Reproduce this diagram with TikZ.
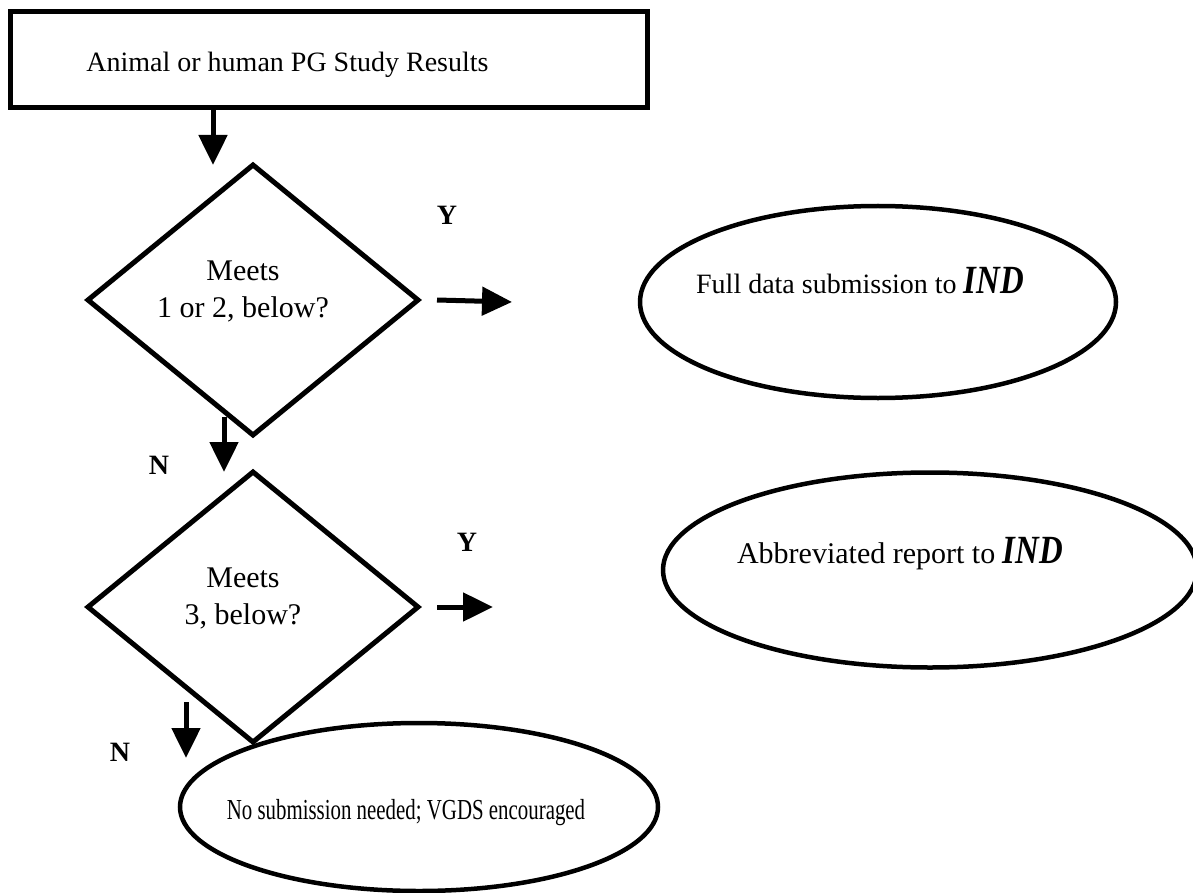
\documentclass[tikz,border=0pt]{standalone}
\usepackage{fontspec}
\setmainfont{Liberation Serif}
\usetikzlibrary{shapes.geometric,arrows.meta,calc}
\newcommand{\indword}{\scalebox{0.82}[1]{\fontsize{40}{40}\selectfont\bfseries\itshape IND}}
\begin{document}
\begin{tikzpicture}[x=1pt,y=-1pt,
  box/.style={draw,line width=5pt,minimum width=637pt,minimum height=96pt,inner sep=0pt,outer sep=0pt,
    font=\fontsize{28}{34}\selectfont,text height=24pt,text depth=0pt},
  decision/.style={draw,diamond,line width=5pt,minimum width=330pt,minimum height=270pt,inner sep=0pt,outer sep=0pt,
    font=\fontsize{30}{37}\selectfont,text height=20pt,text depth=60pt},
  outcome/.style={draw,ellipse,line width=4.5pt,inner sep=0pt,outer sep=0pt},
  arr/.style={line width=5pt,-{Triangle[length=30pt,width=28pt]}},
  yn/.style={font=\fontsize{28}{34}\selectfont\bfseries,inner sep=0pt},
]
\useasboundingbox (0,0) rectangle (1193,893);
\node[box] (start) at (328.5,60) {\makebox[0pt]{Animal or human PG Study Results\hspace*{82pt}}};
\node[decision] (d1) at (253,300) {\makebox[0pt]{\begin{tabular}[t]{@{}c@{}}Meets\\1 or 2, below?\end{tabular}\hspace*{20pt}}};
\node[decision] (d2) at (253,607) {\makebox[0pt]{\begin{tabular}[t]{@{}c@{}}Meets\\3, below?\end{tabular}\hspace*{20pt}}};
\node[outcome,minimum width=476pt,minimum height=192pt,font=\fontsize{28}{34}\selectfont,text height=20pt,text depth=38pt]
  (e1) at (878,302) {\makebox[0pt]{Full data submission to \indword\hspace*{36pt}}};
\node[outcome,minimum width=534pt,minimum height=195pt,font=\fontsize{30}{36}\selectfont,text height=20pt,text depth=34pt]
  (e2) at (930,570) {\makebox[0pt]{Abbreviated report to \indword\hspace*{60pt}}};
\node[outcome,minimum width=478pt,minimum height=168pt,font=\fontsize{29}{34}\selectfont,text height=24pt,text depth=0pt]
  (e3) at (419,807) {\makebox[0pt]{\scalebox{0.72}[1]{No submission needed; VGDS encouraged}\hspace*{26pt}}};
\node[yn] (y1) at (447,215) {Y};
\node[yn] (y2) at (467,542) {Y};
\node[yn] (n1) at (159,465) {N};
\node[yn] (n2) at (120,752) {N};
\draw[arr] ($(start.south)+(-115.5,0)$) -- ($(d1.north)+(-40,0)$);
\draw[arr] ($(d1.east)+(19,0)$) -- ($(e1.west)+(-128,0)$);
\draw[arr] ($(d1.south)+(-29,-18)$) -- ($(d2.north)+(-29,0)$);
\draw[arr] ($(d2.east)+(19,0)$) -- ($(d2.east)+(75,0)$);
\draw[arr] ($(d2.south)+(-67,-40)$) -- ($(e3.north)+(-233,35)$);
\end{tikzpicture}
\end{document}
